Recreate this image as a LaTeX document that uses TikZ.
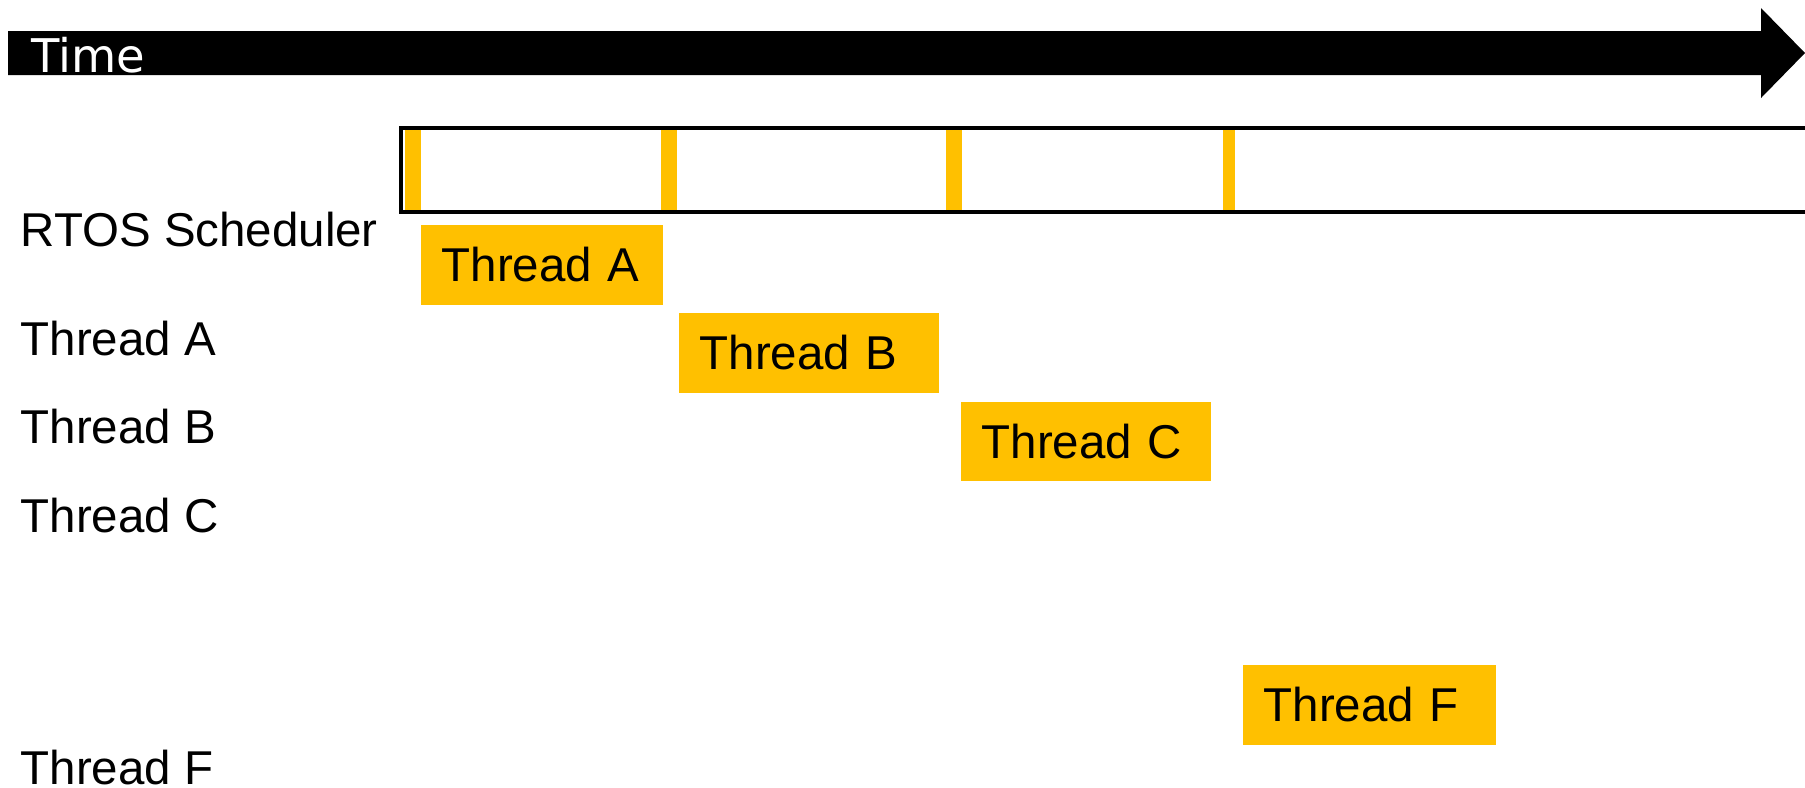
\documentclass[tikz,border=0pt]{standalone}
\usepackage{fontspec}
\setmainfont{Liberation Sans}
\newfontfamily\timefont{DejaVu Sans}
\definecolor{gold}{HTML}{FFC000}

\tikzset{
	lane/.style={anchor=base west, inner sep=0pt, font=\fontsize{13.5}{16}\selectfont},
	run/.style={fill=gold, anchor=west, minimum height=0.79cm, inner ysep=0pt,
		inner xsep=0.21cm, align=left, font=\fontsize{13.5}{16}\selectfont}
}

\begin{document}
\begin{tikzpicture}[x=0.01cm,y=-0.01cm]
	\useasboundingbox (0,0) rectangle (1805,787);
%
	% time axis
	\fill (8,31) -- (1761,31) -- (1761,8) -- (1805,53) -- (1761,98) -- (1761,75) -- (8,75) -- cycle;
	\node[anchor=base west, inner sep=0pt, text=white, font=\timefont\fontsize{13.2}{16}\selectfont] (timelbl) at (31,72) {Time};
%
	% scheduler row: switch points, then the frame
	\foreach \a/\b in {405/421, 661/677, 946/962, 1223/1235}
		\fill[gold] (\a,130) rectangle (\b,210);
	\draw[line width=1.28pt] (1810,128) -- (401,128) -- (401,212) -- (1810,212);
%
	\node[lane] (lblsched) at (20,246) {RTOS Scheduler};
	\node[lane] (lblA) at (20,355) {Thread A};
	\node[lane] (lblB) at (20,443) {Thread B};
	\node[lane] (lblC) at (20,532) {Thread C};
	\node[lane] (lblF) at (20,784) {Thread F};
%
	\node[run, text width=2.00cm] (runA) at (420,265) {Thread A};
	\node[run, text width=2.18cm] (runB) at (678,353) {Thread B};
	\node[run, text width=2.08cm] (runC) at (960,441.5) {Thread C};
	\node[run, text width=2.11cm] (runF) at (1242,705) {Thread F};
\end{tikzpicture}
\end{document}
